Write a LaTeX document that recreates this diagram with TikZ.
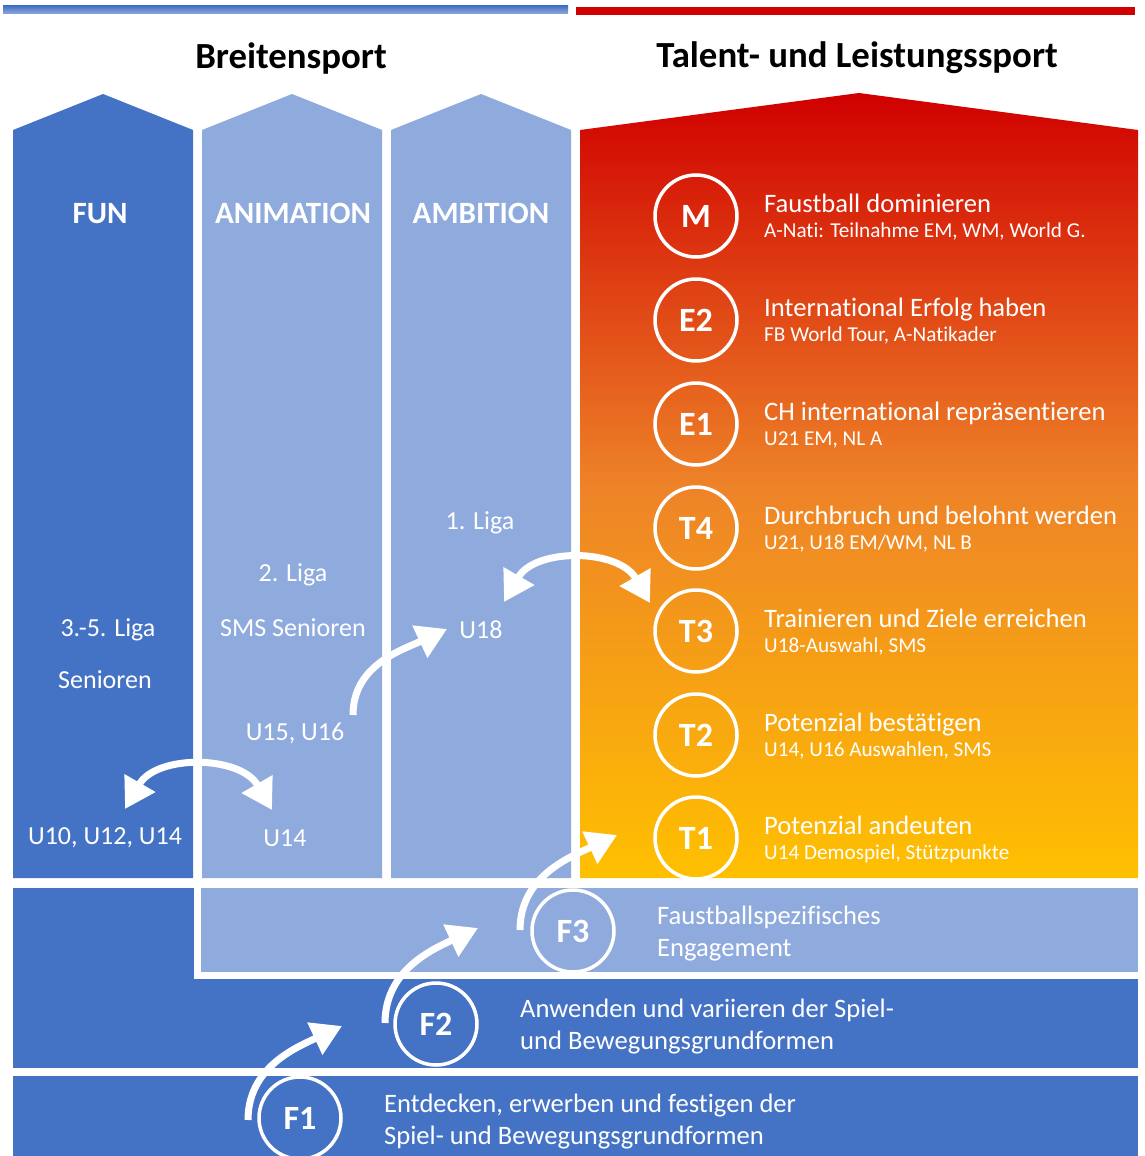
\documentclass[tikz,border=0pt]{standalone}
\usepackage{fontspec}
\setmainfont{Carlito}[Ligatures=NoCommon]
\usetikzlibrary{arrows.meta, positioning, calc}
\definecolor{cdark}{HTML}{4472C4}
\definecolor{clight}{HTML}{8FAADC}
\definecolor{cred}{HTML}{D00000}
\definecolor{corange}{HTML}{EE8328}
\definecolor{cyellow}{HTML}{FFC000}
\tikzset{
  every picture/.style={x=1pt, y=1pt},
  title/.style={font=\fontsize{36.8}{40}\selectfont\bfseries, anchor=base, inner sep=0pt},
  colhead/.style={text=white, font=\fontsize{31}{36}\selectfont\bfseries, anchor=base, inner sep=0pt},
  txt/.style={text=white, font=\fontsize{26}{30}\selectfont, anchor=base, inner sep=0pt},
  ring/.style={circle, draw=white, line width=3.5pt, minimum size=82pt, inner sep=0pt, text=white, font=\fontsize{34}{38}\selectfont\bfseries},
  goal/.style={text=white, font=\fontsize{26.6}{30}\selectfont, anchor=base west, inner sep=0pt},
  goalsub/.style={text=white, font=\fontsize{21.2}{24}\selectfont, anchor=base west, inner sep=0pt},
  bandtxt/.style={text=white, font=\fontsize{26.6}{32}\selectfont, align=left, anchor=west, inner sep=0pt},
  oneway/.style={draw=white, line width=7pt, -{Triangle[length=30pt, width=34pt]}},
  twoway/.style={draw=white, line width=7pt, {Triangle[length=30pt, width=34pt]}-{Triangle[length=30pt, width=34pt]}},
}

\begin{document}
\begin{tikzpicture}
  \useasboundingbox[fill=white] (0,0) rectangle (1144,-1156);
  % headline bars
  \shade[top color=cdark, bottom color=clight] (3,-6) rectangle (568,-14);
  \fill[cred] (576,-7) rectangle (1135,-15);
  \node[title] (breiten) at (291,-69) {Breitensport};
  \node[title] (talent) at (857,-67) {Talent- und Leistungssport};
  % three columns and the performance block
  \foreach \xl/\col in {13/cdark, 202/clight, 391/clight}
    \fill[\col] (\xl,-878) -- ++(0,748) -- ++(90,36) -- ++(90,-36) -- ++(0,-748) -- cycle;
  \shade[top color=cred, bottom color=cyellow, middle color=corange]
    (580,-878) -- (580,-130) -- (859,-93) -- (1138,-130) -- (1138,-878) -- cycle;
  % foundation bands
  \fill[cdark] (13,-888) rectangle (1138,-1068);
  \fill[cdark] (13,-1076) rectangle (1138,-1156);
  \filldraw[fill=clight, draw=white, line width=7pt] (197,-884) rectangle (1141.5,-975);

  \foreach \name/\x/\txt in {fun/100/FUN, anim/293/ANIMATION, ambi/481/AMBITION}
    \node[colhead] (\name) at (\x,-223) {\txt};
  \foreach \name/\x/\y/\txt in {liga35/108/628/3.-5. Liga, senioren/105/680/Senioren, liga2/293/573/2. Liga, sms/293/628/SMS Senioren, u1516/295/732/{U15, U16}, liga1/480/521/1. Liga, u18/481/630/U18, u101214/105/836/{U10, U12, U14}, u14/285/838/U14}
    \node[txt] (\name) at (\x,-\y-8) {\txt};

  % levels M to T1
  \foreach \id/\y/\main/\extra in {M/216/Faustball dominieren/{A-Nati: Teilnahme EM, WM, World G.},
      E2/320/International Erfolg haben/{FB World Tour, A-Natikader},
      E1/424/CH international repräsentieren/{U21 EM, NL A},
      T4/528/Durchbruch und belohnt werden/{U21, U18 EM/WM, NL B},
      T3/631/Trainieren und Ziele erreichen/{U18-Auswahl, SMS},
      T2/735/Potenzial bestätigen/{U14, U16 Auswahlen, SMS},
      T1/838/Potenzial andeuten/{U14 Demospiel, Stützpunkte}}{
    \node[ring] (r\id) at (696,-\y) {\id};
    \node[goal] (g\id) at (764,-\y+4) {\main};
    \node[goalsub] (s\id) at (764,-\y-21) {\extra};
  }

  % foundation levels
  \foreach \id/\x/\y in {F3/573/931, F2/436/1024, F1/300/1118}
    \node[ring] (r\id) at (\x,-\y) {\id};
  \node[bandtxt] (b3) at (657,-934) {Faustballspezifisches\\Engagement};
  \node[bandtxt] (b2) at (520,-1027) {Anwenden und variieren der Spiel-\\und Bewegungsgrundformen};
  \node[bandtxt] (b1) at (384,-1122) {Entdecken, erwerben und festigen der\\Spiel- und Bewegungsgrundformen};

  % transitions
  \foreach \n/\xa/\ya/\xb/\yb in {up1/248/1120/342/1026, up2/385/1023/478/928, up3/520/930/617/835, up4/353/715/447/629}{
    \coordinate (\n a) at (\xa,-\ya);
    \coordinate (\n b) at (\xb,-\yb);
    \draw[oneway] (\n a) to[out=90, in=205] (\n b);
  }
  \foreach \n/\xa/\ya/\xb/\yb in {mix1/125/809/272/810, mix2/504/602/650/603}{
    \coordinate (\n a) at (\xa,-\ya);
    \coordinate (\n b) at (\xb,-\yb);
    \draw[twoway] (\n a) to[out=60, in=120, looseness=1.1] (\n b);
  }
\end{tikzpicture}
\end{document}
